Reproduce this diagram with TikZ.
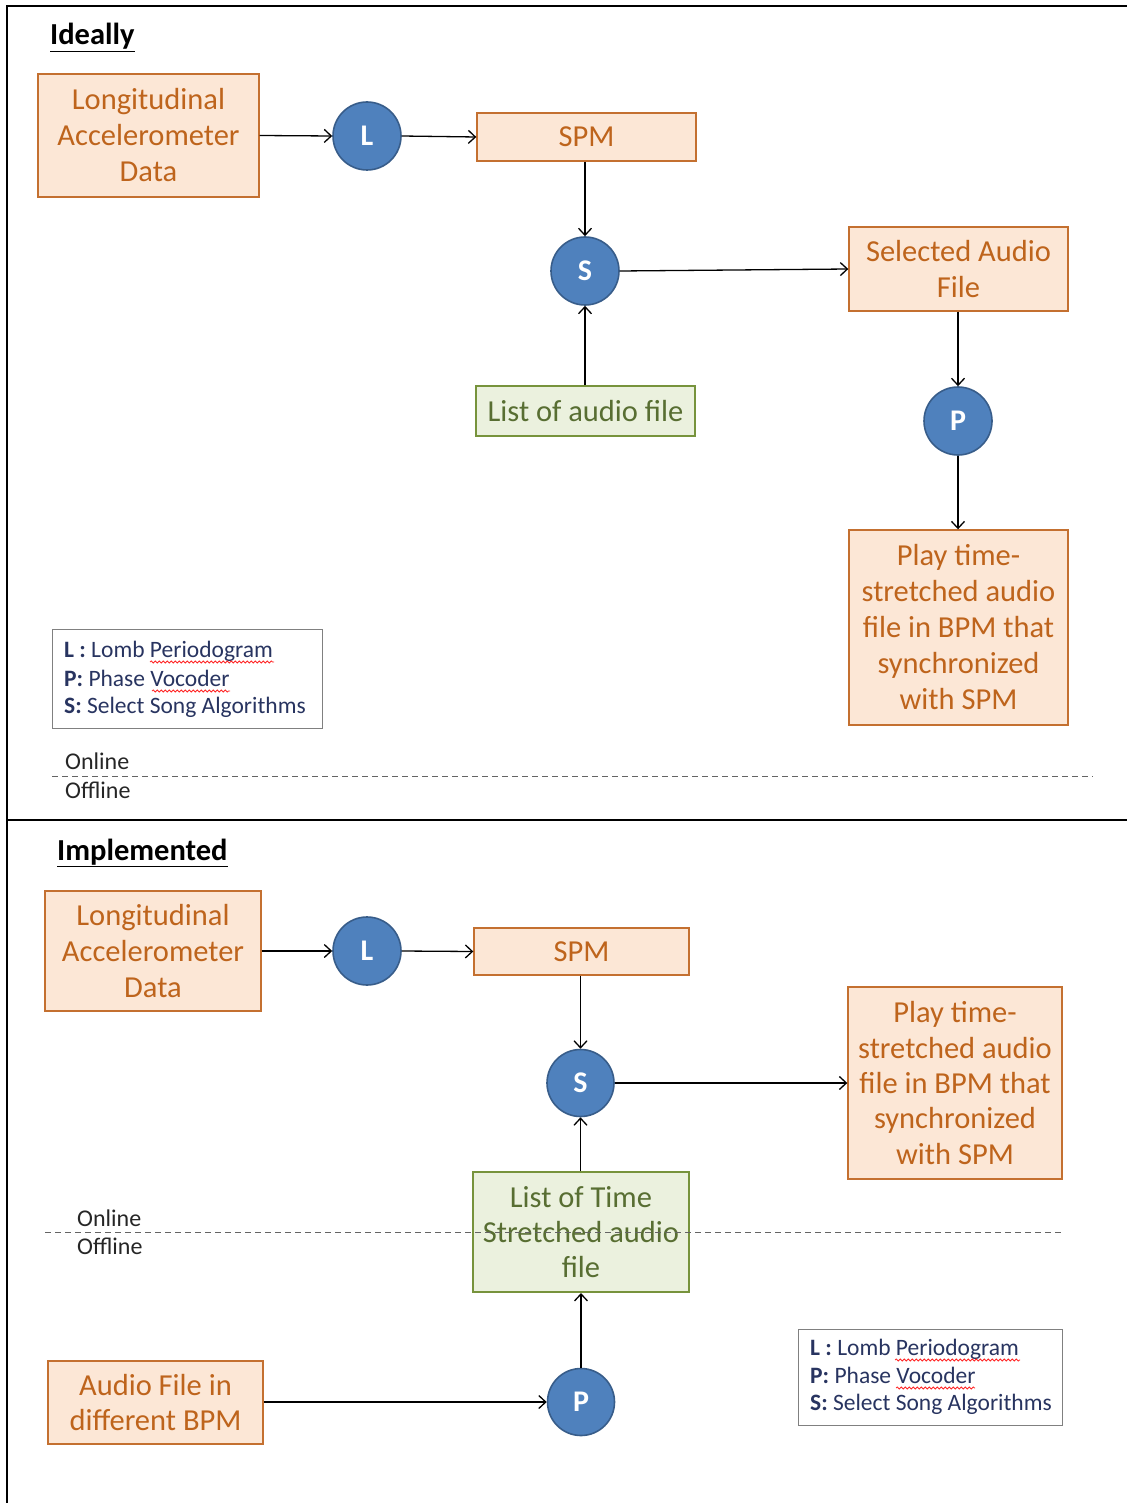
\documentclass[tikz,border=0pt]{standalone}
\usepackage{fontspec}
\setmainfont{Carlito}
\usetikzlibrary{arrows.meta,decorations.pathmorphing}
\definecolor{boxfill}{RGB}{252,231,214}
\definecolor{boxline}{RGB}{196,112,48}
\definecolor{boxtext}{RGB}{190,100,28}
\definecolor{grnfill}{RGB}{235,241,222}
\definecolor{grnline}{RGB}{119,147,60}
\definecolor{grntext}{RGB}{88,110,50}
\definecolor{circfill}{RGB}{79,129,189}
\definecolor{circline}{RGB}{56,93,138}
\definecolor{legtext}{RGB}{40,52,96}
\definecolor{leggray}{RGB}{128,128,128}
\definecolor{dashgray}{RGB}{100,100,100}
\tikzset{
  orbox/.style={draw=boxline, fill=boxfill, line width=1.4pt, text=boxtext,
    font=\fontsize{30.5}{36}\selectfont, align=center, inner sep=0pt},
  grbox/.style={draw=grnline, fill=grnfill, line width=2pt, text=grntext,
    font=\fontsize{30.5}{36}\selectfont, align=center, inner sep=0pt},
  proc/.style={circle, draw=circline, fill=circfill, line width=1.6pt, text=white,
    font=\fontsize{30}{32}\selectfont\bfseries, minimum size=68pt, inner sep=0pt},
  conn/.style={line width=1.3pt, -{Straight Barb[length=7pt,width=13pt,line width=1.3pt]}},
  legbox/.style={draw=leggray, line width=1.2pt, inner sep=0pt, anchor=north west},
  legtxt/.style={text=legtext, font=\fontsize{23.5}{27}\selectfont, anchor=base west, inner sep=0pt},
  ttl/.style={font=\fontsize{30.5}{35}\selectfont\bfseries, anchor=base west, inner sep=0pt},
  zonetxt/.style={text=black!85, font=\fontsize{24}{28}\selectfont, anchor=base west, inner sep=0pt},
  zoneline/.style={draw=dashgray, line width=1pt, dash pattern=on 6pt off 4pt},
  frame/.style={line width=2pt},
  spell/.style={draw=red!85, line width=0.8pt, decorate,
    decoration={snake, segment length=4pt, amplitude=1pt}}
}
\begin{document}
\begin{tikzpicture}[x=1pt,y=-1pt]
\useasboundingbox (0,0) rectangle (1127,1503);
% frame
\draw[frame] (6,6) -- (1127,6);
\draw[frame] (7,6) -- (7,1503);
\draw[frame] (7,820) -- (1127,820);

% ===== Ideally =====
\node[ttl] (t1) at (50,45) {\underline{Ideally}};
\node[orbox, minimum width=221pt, minimum height=123pt] (lad1) at (148.5,135.5) {Longitudinal\\Accelerometer\\Data};
\node[proc] (l1) at (367,136) {L};
\node[orbox, minimum width=219pt, minimum height=48pt] (spm1) at (586.5,137) {SPM};
\node[proc] (s1) at (585,271) {S};
\node[orbox, minimum width=219pt, minimum height=84pt] (sel1) at (958.5,269) {Selected Audio\\File};
\node[grbox, minimum width=219pt, minimum height=50pt] (list1) at (585.5,411) {List of audio file};
\node[proc] (p1) at (958,421) {P};
\node[orbox, minimum width=219pt, minimum height=195pt] (play1) at (958.5,627.5) {Play time-\\stretched audio\\file in BPM that\\synchronized\\with SPM};

\draw[conn] (lad1.east) -- (l1.west);
\draw[conn] (l1.east) -- (spm1.west);
\draw[conn] (spm1.south -| s1) -- (s1.north);
\draw[conn] (list1.north -| s1) -- (s1.south);
\draw[conn] (s1.east) -- (sel1.west);
\draw[conn] (sel1.south -| p1) -- (p1.north);
\draw[conn] (p1.south) -- (play1.north -| p1);

\node[legbox, minimum width=270pt, minimum height=99pt] (leg1) at (52,629) {};
\node[legtxt] (leg1l) at (64,657) {\textbf{L :} Lomb Periodogram};
\node[legtxt] (leg1p) at (64,686) {\textbf{P:} Phase Vocoder};
\node[legtxt] (leg1s) at (64,713) {\textbf{S:} Select Song Algorithms};
\draw[spell] (150,662) -- (274,662);
\draw[spell] (152,691) -- (230,691);

\node[zonetxt] (on1) at (65,769) {Online};
\node[zonetxt] (off1) at (65,798) {Offline};
\draw[zoneline] (52,776) -- (1093,776);

% ===== Implemented =====
\node[ttl] (t2) at (57,860) {\underline{Implemented}};
\node[orbox, minimum width=216pt, minimum height=120pt] (lad2) at (153,951) {Longitudinal\\Accelerometer\\Data};
\node[proc] (l2) at (367,951) {L};
\node[orbox, minimum width=215pt, minimum height=47pt] (spm2) at (581.5,951.5) {SPM};
\node[proc, minimum size=67pt] (s2) at (580.5,1083) {S};
\node[orbox, minimum width=214pt, minimum height=192pt, font=\fontsize{30.5}{35.3}\selectfont] (play2) at (955,1083) {Play time-\\stretched audio\\file in BPM that\\synchronized\\with SPM};
\node[grbox, minimum width=216pt, minimum height=120pt, font=\fontsize{30.5}{35}\selectfont] (list2) at (581,1232) {List of Time\\Stretched audio\\file};
\node[orbox, minimum width=215pt, minimum height=83pt, font=\fontsize{30.5}{35}\selectfont] (aud2) at (155.5,1402.5) {Audio File in\\different BPM};
\node[proc, minimum size=67pt] (p2) at (581,1402) {P};

\draw[conn] (lad2.east) -- (l2.west);
\draw[conn] (l2.east) -- (spm2.west);
\draw[conn] (spm2.south -| s2) -- (s2.north);
\draw[conn] (s2.east) -- (play2.west |- s2);
\draw[conn] (list2.north -| s2) -- (s2.south);
\draw[conn] (aud2.east |- p2) -- (p2.west);
\draw[conn] (p2.north) -- (list2.south -| p2);

\draw[zoneline] (45,1232) -- (1062,1232);
\node[zonetxt] (on2) at (77,1226) {Online};
\node[zonetxt] (off2) at (77,1254) {Offline};

\node[legbox, minimum width=264pt, minimum height=96pt] (leg2) at (798,1329) {};
\node[legtxt] (leg2l) at (810,1355) {\textbf{L :} Lomb Periodogram};
\node[legtxt] (leg2p) at (810,1383) {\textbf{P:} Phase Vocoder};
\node[legtxt] (leg2s) at (810,1410) {\textbf{S:} Select Song Algorithms};
\draw[spell] (895,1360) -- (1020,1360);
\draw[spell] (896,1388) -- (975,1388);
\end{tikzpicture}
\end{document}
